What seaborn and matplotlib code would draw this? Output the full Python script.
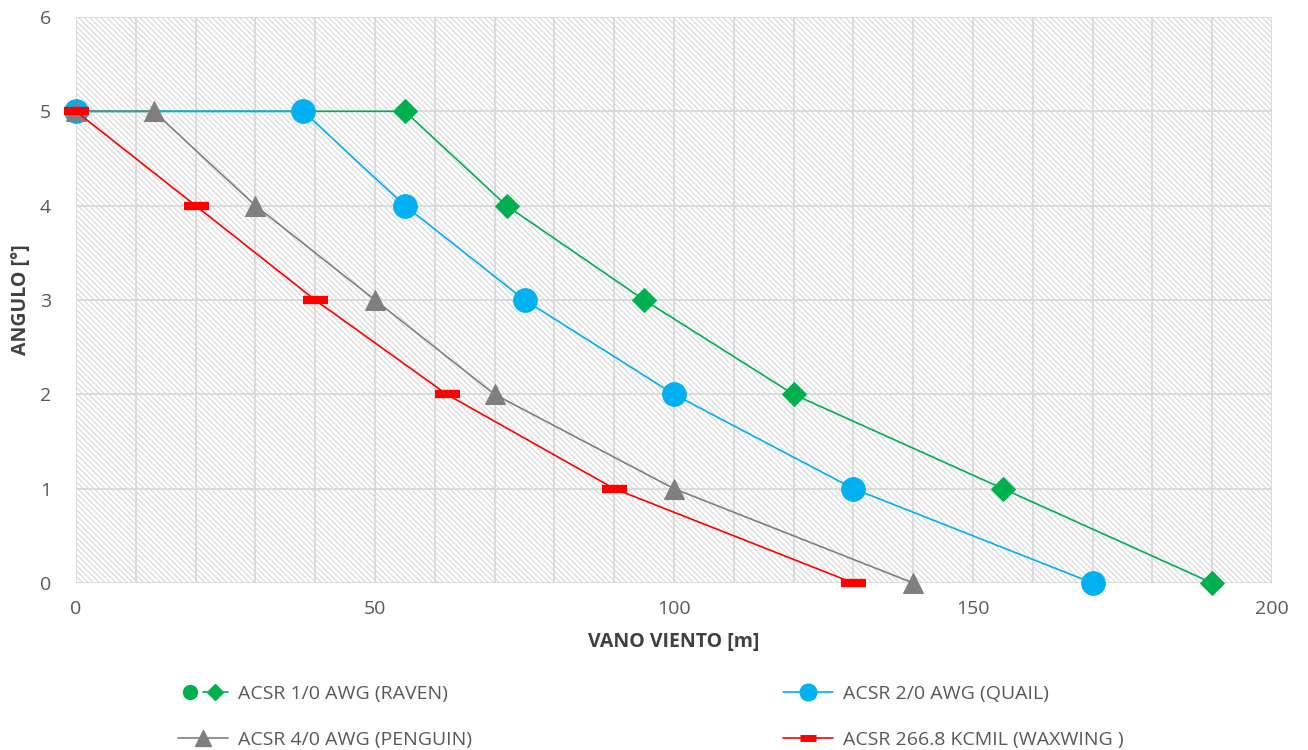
import numpy as np
import pandas as pd
import seaborn as sns
import matplotlib
matplotlib.use("Agg")
import matplotlib.pyplot as plt
from matplotlib.lines import Line2D
from matplotlib.legend_handler import HandlerTuple

sns.set_theme(style="white")
plt.rcParams["font.family"] = ["Open Sans", "DejaVu Sans"]
plt.rcParams["hatch.color"] = "#d2d2d2"
plt.rcParams["hatch.linewidth"] = 0.7

# Wind span [m] vs. deflection angle [deg] for each conductor
angulo = [5, 5, 4, 3, 2, 1, 0]
raven_vano = [0, 55, 72, 95, 120, 155, 190]
quail_vano = [0, 38, 55, 75, 100, 130, 170]
penguin_vano = [0, 13, 30, 50, 70, 100, 140]
waxwing_vano = [0, 20, 40, 62, 90, 130]
waxwing_ang = [5, 4, 3, 2, 1, 0]

labels = ["ACSR 1/0 AWG (RAVEN)", "ACSR 2/0 AWG (QUAIL)",
          "ACSR 4/0 AWG (PENGUIN)", "ACSR 266.8 KCMIL (WAXWING )"]

green, blue, gray, red = "#00B050", "#00B0F0", "#7F7F7F", "#FF0000"
fs = 14

fig = plt.figure(figsize=(13.08, 7.5), dpi=100)
ax = fig.add_axes([76 / 1308, 1 - 583 / 750, (1272 - 76) / 1308, (583 - 17) / 750])

# hatched plot area
ax.set_facecolor("white")
ax.patch.set_hatch("\\\\\\\\\\\\")
ax.patch.set_edgecolor("#d2d2d2")
ax.patch.set_linewidth(0)

series = [
    (raven_vano, angulo, green, dict(marker="D", markersize=12)),
    (quail_vano, angulo, blue, dict(marker="o", markersize=17)),
    (penguin_vano, angulo, gray, dict(marker="^", markersize=15)),
    (waxwing_vano, waxwing_ang, red, dict(marker="_", markersize=18, markeredgewidth=6)),
]
for (x, y, c, mk), lab in zip(series, labels):
    df = pd.DataFrame({"vano": x, "angulo": y})
    sns.lineplot(data=df, x="vano", y="angulo", ax=ax, color=c, lw=1.2,
                 estimator=None, sort=False, markerfacecolor=c,
                 markeredgecolor=c, clip_on=False, zorder=3, **mk)

ax.set_xlim(0, 200)
ax.set_ylim(0, 6)
ax.set_xticks([0, 50, 100, 150, 200])
ax.set_xticks(np.arange(0, 201, 10), minor=True)
ax.set_yticks(range(7))
ax.grid(True, which="both", axis="x", color="#D9D9D9", lw=1.3, zorder=1)
ax.grid(True, which="major", axis="y", color="#D9D9D9", lw=1.3, zorder=1)
ax.set_axisbelow(True)
for s in ax.spines.values():
    s.set_visible(False)
ax.tick_params(axis="both", which="both", length=0, labelsize=fs,
               labelcolor="#595959")
ax.tick_params(axis="y", pad=18)
ax.tick_params(axis="x", pad=12)

ax.set_xlabel("VANO VIENTO [m]", fontsize=fs, fontweight="bold",
              color="#404040", labelpad=10)
ax.set_ylabel("ANGULO [°]", fontsize=fs, fontweight="bold",
              color="#404040", labelpad=6)

# legend handles
h_raven = (Line2D([], [], color=green, marker="o", markersize=10, lw=0),
           Line2D([], [], color=green, marker="D", markersize=8, lw=1.2))
h_quail = Line2D([], [], color=blue, marker="o", markersize=12, lw=1.2)
h_penguin = Line2D([], [], color=gray, marker="^", markersize=11, lw=1.2)
h_waxwing = Line2D([], [], color=red, marker="_", markersize=12,
                   markeredgewidth=5, lw=1.2)

fig.legend([h_raven, h_penguin, h_quail, h_waxwing],
           [labels[0], labels[2], labels[1], labels[3]],
           handler_map={tuple: HandlerTuple(ndivide=None, pad=0.0)},
           loc="lower left", bbox_to_anchor=(160 / 1308, -0.022), ncol=2,
           frameon=False, fontsize=fs, labelcolor="#595959",
           columnspacing=16.0, handlelength=2.6, handletextpad=0.5,
           labelspacing=1.45)

fig.savefig("out.png", dpi=100)
